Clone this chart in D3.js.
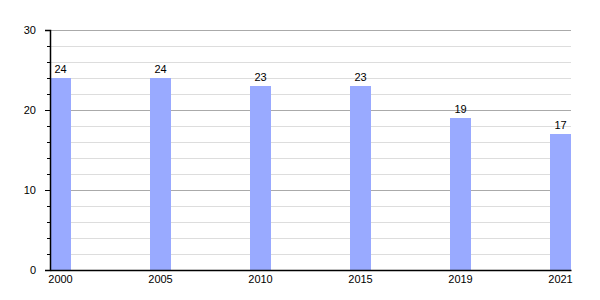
<!DOCTYPE html>
<html>
<head>
<meta charset="utf-8">
<script src="https://cdn.jsdelivr.net/npm/d3@7"></script>
<style>
  body { margin: 0; background: #fff; }
  text { font-family: "Liberation Sans", Arial, sans-serif; font-size: 11px; fill: #000; }
</style>
</head>
<body>
<svg id="chart"></svg>
<script>
// data
let years = ['2000', '2005', '2010', '2015', '2019', '2021'];
let values = [24, 24, 23, 23, 19, 17];
let majorTicks = [0, 10, 20, 30];
let minorTicks = [2, 4, 6, 8, 12, 14, 16, 18, 22, 24, 26, 28];

function getConfig(){
    let width = 600;
    let height = 300;
    let margin = { top: 30, bottom: 30, left: 50, right: 29 };
    let bodyWidth = width - margin.left - margin.right;
    let bodyHeight = height - margin.top - margin.bottom;
    let container = d3.select('#chart')
        .attr('width', width)
        .attr('height', height);
    return { width, height, margin, bodyWidth, bodyHeight, container };
}

function getScales(config){
    let xScale = d3.scaleBand()
        .domain(years)
        .range([0, config.bodyWidth])
        .paddingInner(0.79)
        .paddingOuter(0);
    let yScale = d3.scaleLinear()
        .domain([0, 30])
        .range([config.bodyHeight, 0]);
    return { xScale, yScale };
}

function drawGrid(scales, config){
    let { yScale } = scales;
    let { container, margin, bodyWidth } = config;
    let g = container.append('g')
        .attr('transform', `translate(${margin.left},${margin.top})`);
    g.selectAll('.minor')
        .data(minorTicks)
        .enter().append('line')
        .attr('x1', 0).attr('x2', bodyWidth)
        .attr('y1', d => Math.round(yScale(d)) + 0.5)
        .attr('y2', d => Math.round(yScale(d)) + 0.5)
        .attr('stroke', '#dddddd');
    g.selectAll('.major')
        .data(majorTicks.filter(d => d > 0))
        .enter().append('line')
        .attr('x1', 0).attr('x2', bodyWidth)
        .attr('y1', d => Math.round(yScale(d)) + 0.5)
        .attr('y2', d => Math.round(yScale(d)) + 0.5)
        .attr('stroke', '#aaaaaa');
}

function drawBars(scales, config){
    let { xScale, yScale } = scales;
    let { container, margin } = config;
    let body = container.append('g')
        .attr('transform', `translate(${margin.left},${margin.top})`);
    body.selectAll('.bar')
        .data(values)
        .enter().append('rect')
        .attr('x', (d, i) => xScale(years[i]))
        .attr('y', d => yScale(d))
        .attr('width', xScale.bandwidth())
        .attr('height', d => yScale(0) - yScale(d))
        .attr('fill', '#99aaff');
    body.selectAll('.lbl')
        .data(values)
        .enter().append('text')
        .attr('x', (d, i) => xScale(years[i]) + xScale.bandwidth() / 2)
        .attr('y', d => yScale(d) - 5)
        .attr('text-anchor', 'middle')
        .text(d => d);
}

function drawAxes(scales, config){
    let { xScale, yScale } = scales;
    let { container, margin, height } = config;

    let axisY = d3.axisLeft(yScale)
        .tickValues(majorTicks)
        .tickSize(5)
        .tickPadding(9);
    let gy = container.append('g')
        .attr('transform', `translate(${margin.left},${margin.top})`)
        .call(axisY);
    gy.selectAll('.tick text').style('font-size', '11px').style('font-family', null);

    let minorAxis = d3.axisLeft(yScale)
        .tickValues(minorTicks)
        .tickSize(3)
        .tickFormat('');
    container.append('g')
        .attr('transform', `translate(${margin.left},${margin.top})`)
        .call(minorAxis)
        .call(g => g.select('.domain').remove());

    let axisX = d3.axisBottom(xScale)
        .tickSize(0)
        .tickPadding(5);
    let gx = container.append('g')
        .attr('transform', `translate(${margin.left},${height - margin.bottom})`)
        .call(axisX);
    gx.selectAll('.tick text').style('font-size', '11px').style('font-family', null);

    container.selectAll('.domain').attr('stroke', '#000').attr('stroke-width', 1.5);
    container.selectAll('.tick line').attr('stroke', '#000');
}

function drawChart(){
    let config = getConfig();
    let scales = getScales(config);
    drawGrid(scales, config);
    drawBars(scales, config);
    drawAxes(scales, config);
}

drawChart();
</script>
</body>
</html>
